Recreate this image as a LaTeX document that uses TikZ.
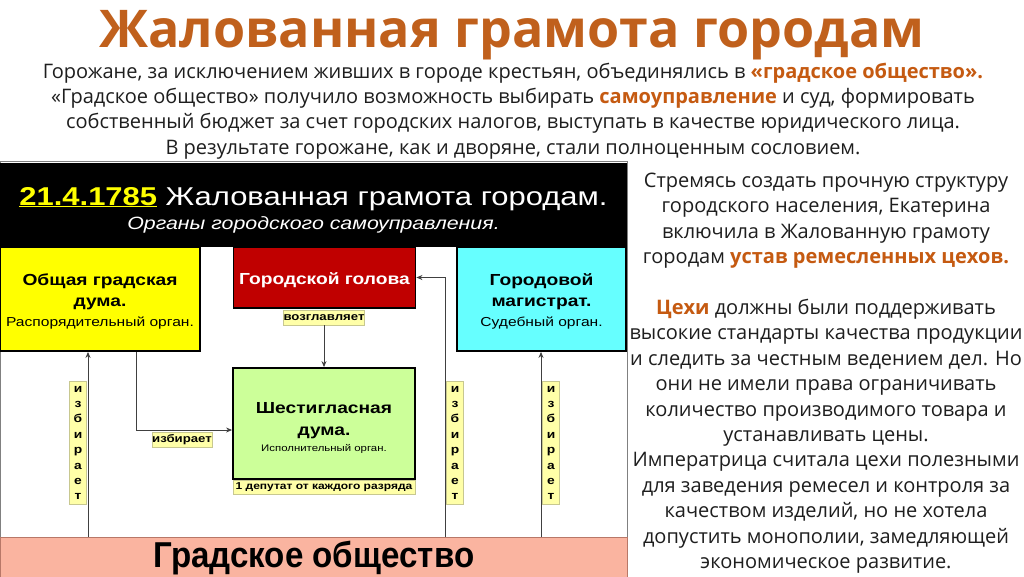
\documentclass[tikz,border=0pt]{standalone}
\usepackage{fontspec}
\setmainfont[FakeStretch=1.2]{Liberation Sans}
\newfontfamily\osans{Open Sans}
\newfontfamily\pinkfont[FakeStretch=0.92]{Liberation Sans}
\usetikzlibrary{arrows.meta}
\definecolor{orng}{HTML}{C55A11}
\definecolor{titlec}{HTML}{C0601C}
\definecolor{txt}{HTML}{1E1E1E}
\definecolor{yel}{HTML}{FFFF00}
\definecolor{redb}{HTML}{C00000}
\definecolor{cyanb}{HTML}{66FFFF}
\definecolor{greenb}{HTML}{CCFF99}
\definecolor{pinkb}{HTML}{FAB4A0}
\definecolor{pinkd}{HTML}{B87868}
\definecolor{lblfill}{HTML}{FFFFA8}
\definecolor{lblbord}{HTML}{C8C890}
\definecolor{linec}{HTML}{404040}
\definecolor{framec}{HTML}{808080}
\newcommand{\boxbig}[1]{{\bfseries\fontsize{16}{21}\selectfont #1}}
\newcommand{\boxsmall}[2]{{\fontsize{#1}{21}\selectfont #2}}
\newcommand{\boxtext}[2]{\raisebox{#1}[0pt][0pt]{\begin{tabular}{@{}c@{}}#2\end{tabular}}}
\begin{document}
\begin{tikzpicture}[x=1pt,y=-1pt,
  box/.style={draw=black,line width=1.8pt,inner sep=0pt,font=\fontsize{16}{21}\selectfont},
  lbl/.style={fill=lblfill,draw=lblbord,line width=0.6pt,inner sep=0pt,font=\bfseries\fontsize{11}{12}\selectfont},
  vlbl/.style={lbl,align=center,minimum width=17pt,minimum height=123pt,font=\bfseries\fontsize{11.5}{15.4}\selectfont},
  conn/.style={draw=linec,line width=1pt},
  arr/.style={conn,-{Stealth[length=6pt,width=5pt]}},
]
\useasboundingbox (0,0) rectangle (1024,576);
\fill[white] (0,0) rectangle (1024,576);

% title and intro
\node[font=\osans\bfseries\fontsize{52}{60}\selectfont, text=titlec] (title) at (512,35) {Жалованная грамота городам};
\node[font=\osans\fontsize{20}{25.3}\selectfont, align=center, text=txt] (intro) at (513,111)
 {Горожане, за исключением живших в городе крестьян, объединялись в {\color{orng}\bfseries «градское общество».}\\
  «Градское общество» получило возможность выбирать {\color{orng}\bfseries самоуправление} и суд, формировать\\
  собственный бюджет за счет городских налогов, выступать в качестве юридического лица.\\
  В результате горожане, как и дворяне, стали полноценным сословием.};

% frame of the diagram
\draw[framec,line width=0.6pt] (0,161) rectangle (627,580);

% header
\node[fill=black, minimum width=627pt, minimum height=84pt, inner sep=0pt] (hdr) at (313.5,205) {};
\node[text=white, inner sep=0pt, align=center] (hdrtxt) at (313.5,210)
 {{\fontsize{25.8}{28}\selectfont{\color{yel}\bfseries\underline{21.4.1785}} Жалованная грамота городам.}\\[5pt]
  {\itshape\fontsize{17.8}{20}\selectfont Органы городского самоуправления.}};

% boxes
\node[box, fill=yel, minimum width=200pt, minimum height=104pt] (yelb) at (100,299)
 {\boxtext{-7pt}{\boxbig{Общая градская}\\ \boxbig{дума.}\\[-1pt] \boxsmall{13}{Распорядительный орган.}}};
\node[box, fill=redb, text=white, minimum width=182pt, minimum height=61pt] (redb) at (324.5,277.5)
 {\boxtext{-7pt}{\boxbig{Городской голова}}};
\node[box, fill=cyanb, minimum width=169pt, minimum height=104pt] (cyb) at (541.5,299)
 {\boxtext{-7pt}{\boxbig{Городовой}\\ \boxbig{магистрат.}\\[-1pt] \boxsmall{13}{Судебный орган.}}};
\node[box, fill=greenb, minimum width=182pt, minimum height=111pt] (grb) at (324,423.5)
 {\boxtext{-9pt}{\boxbig{Шестигласная}\\[1pt] \boxbig{дума.}\\[-5pt] \boxsmall{9.5}{Исполнительный орган.}}};
\node[lbl, minimum width=182pt, minimum height=14pt, anchor=north, font=\bfseries\fontsize{10}{12}\selectfont] (dep) at (grb.south) {1 депутат от каждого разряда};
\node[draw=pinkd, line width=0.8pt, fill=pinkb, minimum width=627pt, minimum height=42pt, inner sep=0pt, anchor=north west,
      font=\pinkfont\bfseries\fontsize{36}{40}\selectfont] (pink) at (0,537) {\raisebox{-8pt}{Градское общество}};

% labels
\node[lbl, minimum width=78pt, minimum height=15pt] (vozgl) at (324,317.5) {возглавляет};
\node[lbl, minimum width=60pt, minimum height=15pt] (izbh) at (182,439.5) {избирает};
\node[vlbl] (izb1) at (78,443) {и\\з\\б\\и\\р\\а\\е\\т};
\node[vlbl] (izb2) at (455,443) {и\\з\\б\\и\\р\\а\\е\\т};
\node[vlbl] (izb3) at (551,443) {и\\з\\б\\и\\р\\а\\е\\т};

% column coordinates
\coordinate (colA) at (88,0);
\coordinate (colB) at (136,0);
\coordinate (colC) at (445,0);
\coordinate (colD) at (541,0);
\coordinate (rowA) at (0,430);

% connectors
\draw[arr] (pink.north -| colA) -- (yelb.south -| colA);
\draw[arr] (yelb.south -| colB) |- (grb.west |- rowA);
\draw[arr] (pink.north -| colC) |- (redb.east);
\draw[arr] (pink.north -| colD) -- (cyb.south -| colD);
\draw[arr] (vozgl.south) -- (grb.north);

% side text
\node[font=\osans\fontsize{20}{25.4}\selectfont, align=center, text=txt, anchor=north] (side) at (826,169.5)
 {Стремясь создать прочную структуру\\
  городского населения, Екатерина\\
  включила в Жалованную грамоту\\
  городам {\color{orng}\bfseries устав ремесленных цехов.}\\
  \\
  {\color{orng}\bfseries Цехи} должны были поддерживать\\
  высокие стандарты качества продукции\\
  и следить за честным ведением дел. Но\\
  они не имели права ограничивать\\
  количество производимого товара и\\
  устанавливать цены.\\
  Императрица считала цехи полезными\\
  для заведения ремесел и контроля за\\
  качеством изделий, но не хотела\\
  допустить монополии, замедляющей\\
  экономическое развитие.};
\end{tikzpicture}
\end{document}
